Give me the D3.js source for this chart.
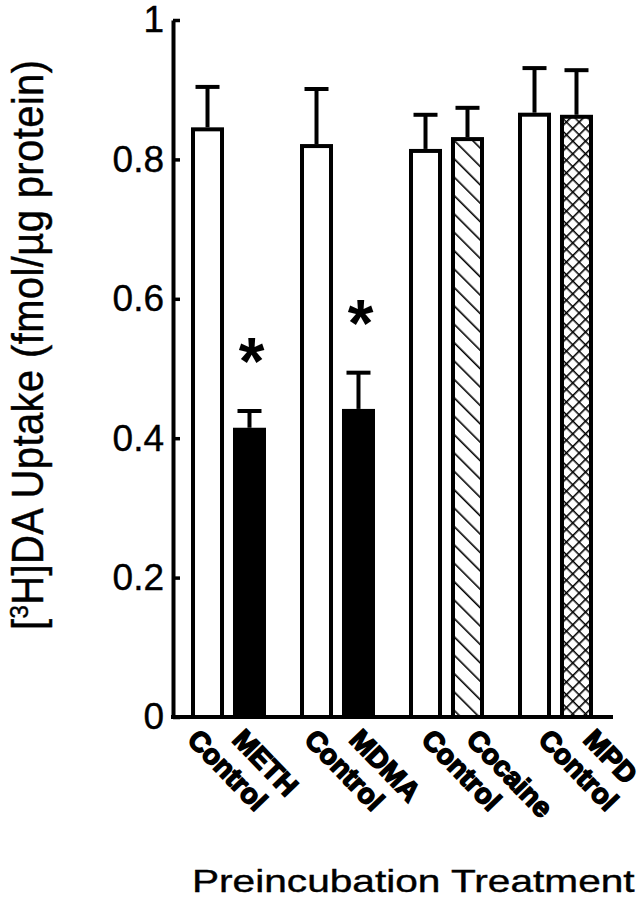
<!DOCTYPE html>
<html>
<head>
<meta charset="utf-8">
<script src="https://cdn.jsdelivr.net/npm/d3@7"></script>
<style>
  body { margin: 0; background: #fff; }
  svg { display: block; }
</style>
</head>
<body>
<svg id="chart" width="643" height="899"></svg>
<script>
// data
const groups = ['METH', 'MDMA', 'Cocaine', 'MPD'];
const controlMeans = [0.846, 0.822, 0.815, 0.867];
const controlSem = [0.058, 0.079, 0.049, 0.064];
const drugMeans = [0.415, 0.442, 0.832, 0.864];
const drugSem = [0.024, 0.052, 0.042, 0.064];
const significant = [true, true, false, false];
const yTicks = [0, 0.2, 0.4, 0.6, 0.8, 1];

const FONT = "'Liberation Sans', Arial, Helvetica, sans-serif";
const svg = d3.select('#chart');

const bars = [];
groups.forEach((g, i) => {
  bars.push({ group: g, kind: 'Control', label: 'Control', mean: controlMeans[i], sem: controlSem[i], sig: false });
  bars.push({ group: g, kind: 'Drug', label: g, mean: drugMeans[i], sem: drugSem[i], sig: significant[i] });
});

const x0 = d3.scaleBand().domain(groups).range([174, 610]);
const x1 = d3.scaleBand().domain(['Control', 'Drug'])
  .range([0, x0.bandwidth()]).paddingInner(0.214).paddingOuter(0.405);
const y = d3.scaleLinear().domain([0, 1]).range([717, 20]);
// the rotated labels fan out a little wider than the bars
const labelX = d3.scaleLinear().domain(x0.range()).range([150, 618]);

// patterns
const defs = svg.append('defs');
defs.append('pattern')
  .attr('id', 'hatch')
  .attr('patternUnits', 'userSpaceOnUse')
  .attr('width', 13).attr('height', 13)
  .attr('patternTransform', 'rotate(-45)')
  .append('line')
    .attr('x1', 0.8).attr('y1', 0).attr('x2', 0.8).attr('y2', 13)
    .attr('stroke', '#000').attr('stroke-width', 1.6);

const cross = defs.append('pattern')
  .attr('id', 'cross')
  .attr('patternUnits', 'userSpaceOnUse')
  .attr('width', 9).attr('height', 9)
  .attr('patternTransform', 'rotate(45)');
cross.append('rect').attr('width', 9).attr('height', 9).attr('fill', '#fff');
cross.append('path').attr('d', 'M0,0.8H9M0.8,0V9')
  .attr('stroke', '#000').attr('stroke-width', 1.6);

const fillFor = d => {
  if (d.kind === 'Control') return '#fff';
  if (d.group === 'Cocaine') return 'url(#hatch)';
  if (d.group === 'MPD') return 'url(#cross)';
  return '#000';
};

const bx = d => x0(d.group) + x1(d.kind);
const bw = x1.bandwidth();

// bars
svg.append('g').selectAll('rect')
  .data(bars)
  .join('rect')
    .attr('x', d => bx(d) + 2)
    .attr('y', d => y(d.mean) + 2)
    .attr('width', bw - 4)
    .attr('height', d => y(0) - y(d.mean) - 2)
    .attr('fill', fillFor)
    .attr('stroke', '#000')
    .attr('stroke-width', 4);

// error bars
const err = svg.append('g').attr('stroke', '#000').attr('stroke-width', 4);
err.selectAll('line.stem')
  .data(bars)
  .join('line')
    .attr('class', 'stem')
    .attr('x1', d => bx(d) + bw / 2).attr('x2', d => bx(d) + bw / 2)
    .attr('y1', d => y(d.mean)).attr('y2', d => y(d.mean + d.sem));
err.selectAll('line.cap')
  .data(bars)
  .join('line')
    .attr('class', 'cap')
    .attr('x1', d => bx(d) + bw / 2 - 12).attr('x2', d => bx(d) + bw / 2 + 12)
    .attr('y1', d => y(d.mean + d.sem)).attr('y2', d => y(d.mean + d.sem));

// asterisks
svg.append('g').selectAll('text')
  .data(bars.filter(d => d.sig))
  .join('text')
    .attr('x', d => bx(d) + bw / 2 + 2)
    .attr('y', d => y(d.mean + d.sem) - 64 + 37)
    .attr('text-anchor', 'middle')
    .attr('font-family', FONT)
    .attr('font-weight', 'bold')
    .attr('font-size', 66)
    .text('*');

// y axis
const yAxis = svg.append('g')
  .attr('transform', 'translate(173,0)')
  .call(d3.axisLeft(y).tickValues(yTicks)
    .tickFormat(d => d === 0 || d === 1 ? d3.format('d')(d) : d3.format('.1f')(d))
    .tickSizeInner(-7).tickSizeOuter(0).tickPadding(9));
yAxis.select('.domain').attr('stroke-width', 4);
yAxis.selectAll('.tick line').attr('stroke-width', 3.5);
yAxis.selectAll('.tick text')
  .attr('font-family', FONT)
  .attr('font-size', 37)
  .attr('fill', '#000')
  .attr('stroke', '#000')
  .attr('stroke-width', 0.4);

// x axis line
svg.append('line')
  .attr('x1', 171).attr('x2', x0.range()[1] + 3)
  .attr('y1', y(0)).attr('y2', y(0))
  .attr('stroke', '#000').attr('stroke-width', 4);

// category labels
svg.append('g').selectAll('text')
  .data(bars)
  .join('text')
    .attr('transform', d => `translate(${labelX(bx(d) + bw / 2)},741) rotate(46)`)
    .attr('font-family', FONT)
    .attr('font-weight', 'bold')
    .attr('font-size', 28)
    .attr('stroke', '#000')
    .attr('stroke-width', 1.6)
    .text(d => d.label);

// axis titles
svg.append('text')
  .attr('transform', 'translate(192,892) scale(1.27,1)')
  .attr('font-family', FONT)
  .attr('font-size', 32)
  .attr('stroke', '#000')
  .attr('stroke-width', 0.4)
  .text('Preincubation Treatment');

const yt = svg.append('text')
  .attr('transform', 'translate(43,630) scale(1.1,1) rotate(-90)')
  .attr('font-family', FONT)
  .attr('font-size', 40)
  .attr('stroke', '#000')
  .attr('stroke-width', 0.4)
  .attr('textLength', 570)
  .attr('lengthAdjust', 'spacing');
yt.append('tspan').text('[');
yt.append('tspan').attr('font-size', 24).attr('dy', -14).text('3');
yt.append('tspan').attr('dy', 14).text('H]DA Uptake (fmol/\u00b5g protein)');
</script>
</body>
</html>
